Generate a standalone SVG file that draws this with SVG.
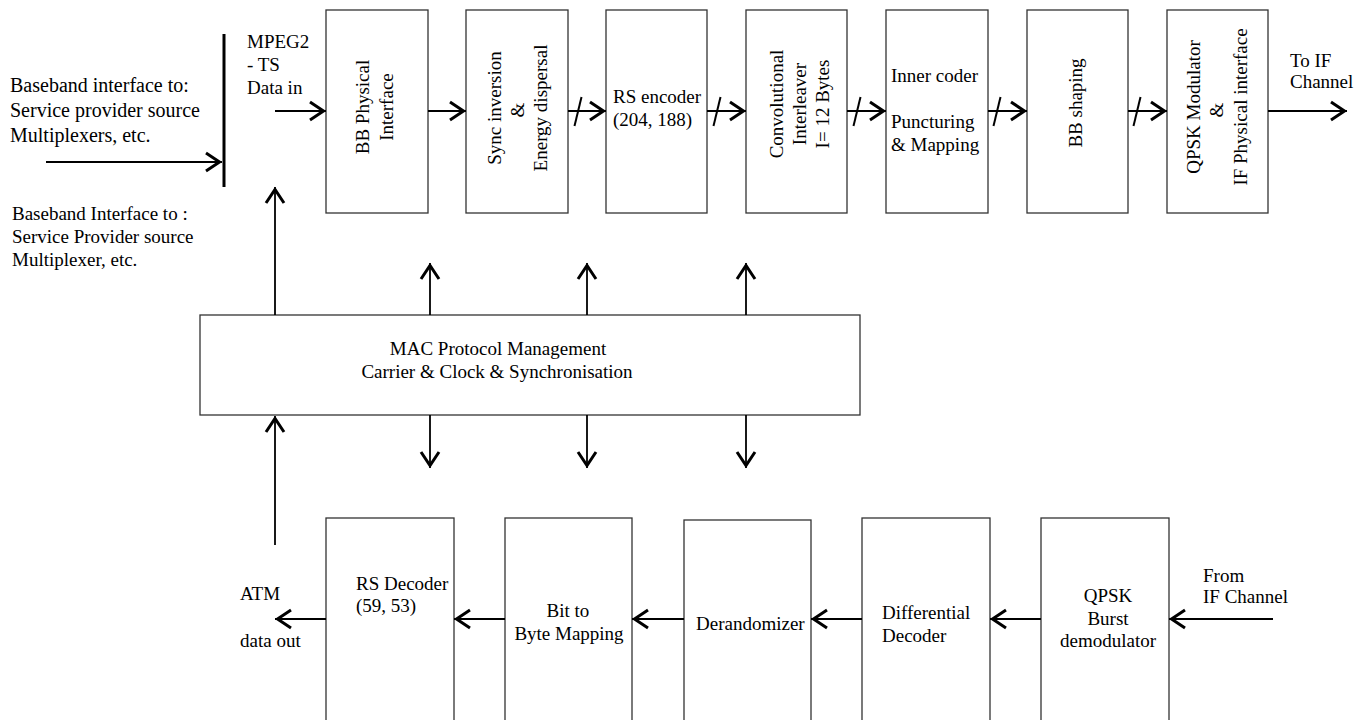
<svg xmlns="http://www.w3.org/2000/svg" width="1369" height="720" viewBox="0 0 1369 720">
<style>
text{font-family:"Liberation Serif","Times New Roman",serif;font-size:19px;fill:#000}
.big{font-size:20px}
.box{fill:#fff;stroke:#333;stroke-width:1.3}
.ln{fill:none;stroke:#000;stroke-width:2}
.vl{fill:none;stroke:#000;stroke-width:1.8}
.sl{stroke:#000;stroke-width:2}
.mid{text-anchor:middle}
</style>
<defs>
<marker id="ah" viewBox="-18 -11 20 22" refX="0" refY="0" markerWidth="20" markerHeight="22" markerUnits="userSpaceOnUse" orient="auto">
<path d="M-16,-9 L-2.5,0 L-16,9" fill="none" stroke="#000" stroke-width="3"/>
</marker>
</defs>
<rect width="1369" height="720" fill="#fff"/>

<g id="input-labels">
<text class="big" x="10" y="92">Baseband interface to:</text>
<text class="big" x="10" y="117">Service provider source</text>
<text class="big" x="10" y="142">Multiplexers, etc.</text>
<text x="12" y="220">Baseband Interface to :</text>
<text x="12" y="243">Service Provider source</text>
<text x="12" y="266">Multiplexer, etc.</text>
<text x="247" y="48">MPEG2</text>
<text x="247" y="71">- TS</text>
<text x="247" y="94">Data in</text>
<rect x="222.5" y="34" width="3" height="153" fill="#000"/>
</g>

<g id="bb-physical">
<rect class="box" x="326" y="10" width="102" height="203"/>
<text class="mid" transform="translate(369,107) rotate(-90)">BB Physical</text>
<text class="mid" transform="translate(393,107) rotate(-90)">Interface</text>
</g>
<g id="sync">
<rect class="box" x="466" y="10" width="102" height="203"/>
<text class="mid" transform="translate(501,108) rotate(-90)">Sync inversion</text>
<text class="mid" transform="translate(524,110) rotate(-90)">&amp;</text>
<text class="mid" transform="translate(547,108) rotate(-90)">Energy dispersal</text>
</g>
<g id="rs-encoder">
<rect class="box" x="606" y="10" width="101" height="203"/>
<text x="613" y="103">RS encoder</text>
<text x="613" y="126">(204, 188)</text>
</g>
<g id="interleaver">
<rect class="box" x="746" y="10" width="101" height="203"/>
<text class="mid" transform="translate(783,104) rotate(-90)">Convolutional</text>
<text class="mid" transform="translate(806,104) rotate(-90)">Interleaver</text>
<text class="mid" transform="translate(829,104) rotate(-90)">I= 12 Bytes</text>
</g>
<g id="inner-coder">
<rect class="box" x="886" y="10" width="102" height="203"/>
<text x="891" y="82">Inner coder</text>
<text x="891" y="128">Puncturing</text>
<text x="891" y="151">&amp; Mapping</text>
</g>
<g id="bb-shaping">
<rect class="box" x="1027" y="10" width="101" height="203"/>
<text class="mid" transform="translate(1082,103) rotate(-90)">BB shaping</text>
</g>
<g id="qpsk-mod">
<rect class="box" x="1167" y="10" width="101" height="203"/>
<text class="mid" transform="translate(1200,107) rotate(-90)">QPSK Modulator</text>
<text class="mid" transform="translate(1223,110) rotate(-90)">&amp;</text>
<text class="mid" transform="translate(1247,107) rotate(-90)">IF Physical interface</text>
</g>
<g id="to-if">
<text x="1290" y="67">To IF</text>
<text x="1290" y="88">Channel</text>
</g>

<g id="mac">
<rect class="box" x="200" y="315" width="660" height="100"/>
<text class="mid" x="498" y="355">MAC Protocol Management</text>
<text class="mid" x="497" y="378">Carrier &amp; Clock &amp; Synchronisation</text>
</g>

<g id="rs-decoder">
<rect class="box" x="326" y="518" width="128" height="210"/>
<text x="356" y="590">RS Decoder</text>
<text x="356" y="612">(59, 53)</text>
</g>
<g id="bit-to-byte">
<rect class="box" x="505" y="518" width="127" height="210"/>
<text class="mid" x="568" y="617">Bit to</text>
<text class="mid" x="569" y="640">Byte Mapping</text>
</g>
<g id="derandomizer">
<rect class="box" x="684" y="520" width="127" height="210"/>
<text x="696" y="630">Derandomizer</text>
</g>
<g id="differential">
<rect class="box" x="862" y="518" width="128" height="210"/>
<text x="882" y="619">Differential</text>
<text x="882" y="642">Decoder</text>
</g>
<g id="qpsk-demod">
<rect class="box" x="1041" y="518" width="128" height="210"/>
<text class="mid" x="1108" y="602">QPSK</text>
<text class="mid" x="1108" y="625">Burst</text>
<text class="mid" x="1108" y="647">demodulator</text>
</g>
<g id="out-labels">
<text x="240" y="600">ATM</text>
<text x="240" y="647">data out</text>
<text x="1203" y="582">From</text>
<text x="1203" y="603">IF Channel</text>
</g>

<g id="connectors">
<path class="ln" d="M46,162 H222" marker-end="url(#ah)"/>
<path class="ln" d="M275,111 H326" marker-end="url(#ah)"/>
<path class="ln" d="M428,111 H466" marker-end="url(#ah)"/>
<path class="ln" d="M568,111 H606" marker-end="url(#ah)"/>
<path class="ln" d="M707,111 H746" marker-end="url(#ah)"/>
<path class="ln" d="M847,111 H886" marker-end="url(#ah)"/>
<path class="ln" d="M988,111 H1027" marker-end="url(#ah)"/>
<path class="ln" d="M1128,111 H1167" marker-end="url(#ah)"/>
<path class="ln" d="M1268,111 H1347" marker-end="url(#ah)"/>
<line class="sl" x1="574.5" y1="126" x2="581.5" y2="97"/>
<line class="sl" x1="713.5" y1="126" x2="720.5" y2="97"/>
<line class="sl" x1="853.5" y1="126" x2="860.5" y2="97"/>
<line class="sl" x1="993.5" y1="126" x2="1000.5" y2="97"/>
<line class="sl" x1="1133.5" y1="126" x2="1140.5" y2="97"/>
<path class="vl" d="M275,315 V187" marker-end="url(#ah)"/>
<path class="vl" d="M430,315 V263" marker-end="url(#ah)"/>
<path class="vl" d="M587,315 V263" marker-end="url(#ah)"/>
<path class="vl" d="M746,315 V263" marker-end="url(#ah)"/>
<path class="vl" d="M430,415 V468" marker-end="url(#ah)"/>
<path class="vl" d="M587,415 V468" marker-end="url(#ah)"/>
<path class="vl" d="M746,415 V468" marker-end="url(#ah)"/>
<path class="vl" d="M275,545 V416" marker-end="url(#ah)"/>
<path class="ln" d="M1273,619 H1169" marker-end="url(#ah)"/>
<path class="ln" d="M1041,619 H990" marker-end="url(#ah)"/>
<path class="ln" d="M862,619 H811" marker-end="url(#ah)"/>
<path class="ln" d="M684,619 H632" marker-end="url(#ah)"/>
<path class="ln" d="M505,619 H454" marker-end="url(#ah)"/>
<path class="ln" d="M326,619 H275" marker-end="url(#ah)"/>
</g>
</svg>
